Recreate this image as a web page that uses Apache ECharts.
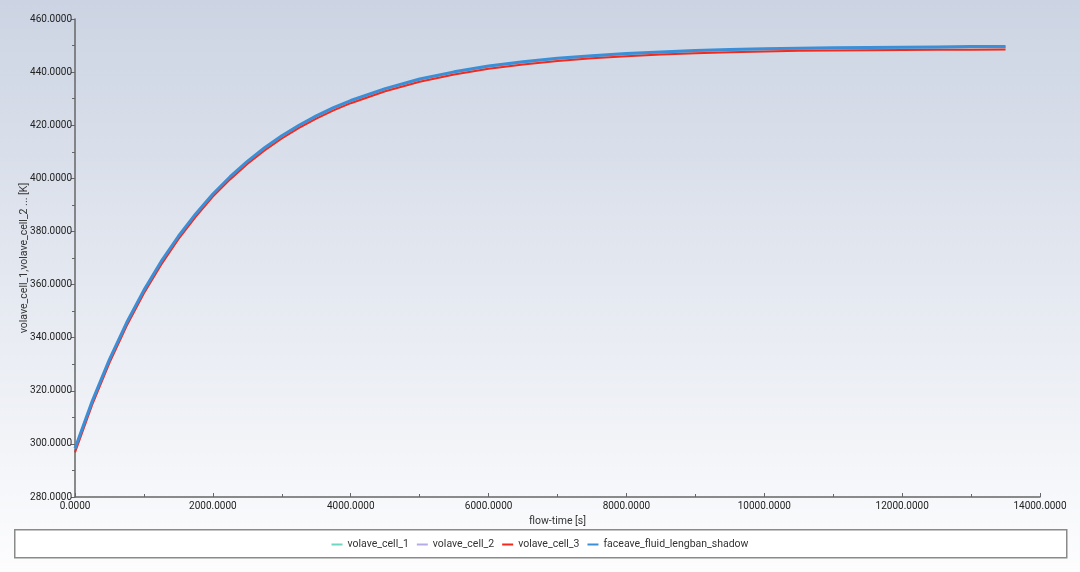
<!DOCTYPE html>
<html>
<head>
<meta charset="utf-8">
<script src="https://cdn.jsdelivr.net/npm/echarts@6/dist/echarts.min.js"></script>
<style>
html,body{margin:0;padding:0;}
#c{width:1080px;height:572px;}
</style>
</head>
<body>
<div id="c"></div>
<script>
const flowTime = [0,250,500,750,1000,1250,1500,1750,2000,2250,2500,2750,3000,3250,3500,3750,4000,4500,5000,5500,6000,6500,7000,7500,8000,8500,9000,9500,10000,10500,11000,11500,12000,12500,13000,13500];
const volaveCell1 = [298.1,315.9,331.6,345.5,357.7,368.5,378.0,386.4,393.9,400.4,406.2,411.3,415.8,419.8,423.3,426.4,429.1,433.6,437.2,439.9,442.1,443.7,445.0,446.0,446.8,447.4,447.9,448.3,448.6,448.8,449.0,449.1,449.2,449.3,449.4,449.4];
const volaveCell2 = [298.2,316.0,331.7,345.6,357.8,368.6,378.1,386.5,394.0,400.5,406.3,411.4,415.9,419.9,423.4,426.5,429.2,433.7,437.3,440.0,442.2,443.8,445.1,446.1,446.9,447.5,448.0,448.4,448.7,448.9,449.1,449.2,449.3,449.4,449.5,449.5];
const volaveCell3 = [296.8,314.8,330.5,344.5,356.7,367.5,377.1,385.5,393.1,399.6,405.4,410.5,415.0,419.0,422.5,425.6,428.3,432.8,436.4,439.1,441.3,442.9,444.2,445.2,446.0,446.6,447.1,447.5,447.8,448.0,448.1,448.2,448.3,448.4,448.4,448.5];
const faceaveShadow = [298.3,316.1,331.8,345.7,357.9,368.7,378.2,386.6,394.1,400.6,406.4,411.5,416.0,420.0,423.5,426.6,429.3,433.8,437.4,440.1,442.3,443.9,445.2,446.2,447.0,447.6,448.1,448.5,448.8,449.0,449.2,449.3,449.4,449.5,449.6,449.6];
const seriesNames = ['volave_cell_1','volave_cell_2','volave_cell_3','faceave_fluid_lengban_shadow'];
const seriesColors = ['#6fd6c4','#b4ace6','#f5281c','#3c8fd6'];
const seriesWidths = [2,2,2,3];
const seriesValues = [volaveCell1, volaveCell2, volaveCell3, faceaveShadow];

const chart = echarts.init(document.getElementById('c'), null, {renderer:'canvas'});
const font = 'Roboto, "DejaVu Sans", sans-serif';
const fmt = v => v.toFixed(4);

const option = {
  animation:false,
  backgroundColor: new echarts.graphic.LinearGradient(0,0,0,1,[
    {offset:0,color:'#ccd4e3'},{offset:1,color:'#fdfdfe'}
  ]),
  graphic:[{
    type:'rect', left:14, top:529, shape:{width:1052,height:28},
    style:{fill:'#ffffff',stroke:'#8a8a8a',lineWidth:1.5}, z:0
  }],
  grid:{left:75,right:40,top:19,bottom:75,containLabel:false,outerBoundsMode:'none'},
  legend:{
    top:534, left:'center', z:10,
    icon:'rect', itemWidth:11, itemHeight:2, itemGap:8,
    textStyle:{fontFamily:font,fontSize:10.5,color:'#333'},
    data:seriesNames
  },
  xAxis:{
    type:'value', min:0, max:14000, interval:2000,
    name:'flow-time [s]', nameLocation:'middle', nameGap:19, nameMoveOverlap:false,
    nameTextStyle:{fontFamily:font,fontSize:10.5,color:'#333'},
    axisLine:{show:true,onZero:false,lineStyle:{color:'#666',width:1.5}},
    axisTick:{show:true,inside:true,length:4,lineStyle:{color:'#666'}},
    minorTick:{show:true,splitNumber:2,length:3,lineStyle:{color:'#666'}},
    splitLine:{show:false},
    axisLabel:{formatter:fmt,fontFamily:font,fontSize:10,color:'#222',margin:4}
  },
  yAxis:{
    type:'value', min:280, max:460, interval:20,
    name:'volave_cell_1,volave_cell_2 ... [K]', nameLocation:'middle', nameGap:45, nameMoveOverlap:false,
    nameTextStyle:{fontFamily:font,fontSize:10.5,color:'#333'},
    axisLine:{show:true,onZero:false,lineStyle:{color:'#666',width:1.5}},
    axisTick:{show:true,length:4,lineStyle:{color:'#666'}},
    minorTick:{show:true,splitNumber:2,length:3,lineStyle:{color:'#666'}},
    splitLine:{show:false},
    axisLabel:{formatter:fmt,fontFamily:font,fontSize:10,color:'#222',margin:3}
  },
  series: seriesNames.map((n,i)=>({
    name:n, type:'line', showSymbol:false, smooth:false,
    color:seriesColors[i],
    lineStyle:{color:seriesColors[i],width:seriesWidths[i]},
    data: flowTime.map((t,j)=>[t, seriesValues[i][j]]),
    z: 2+i
  }))
};
chart.setOption(option);
</script>
</body>
</html>
